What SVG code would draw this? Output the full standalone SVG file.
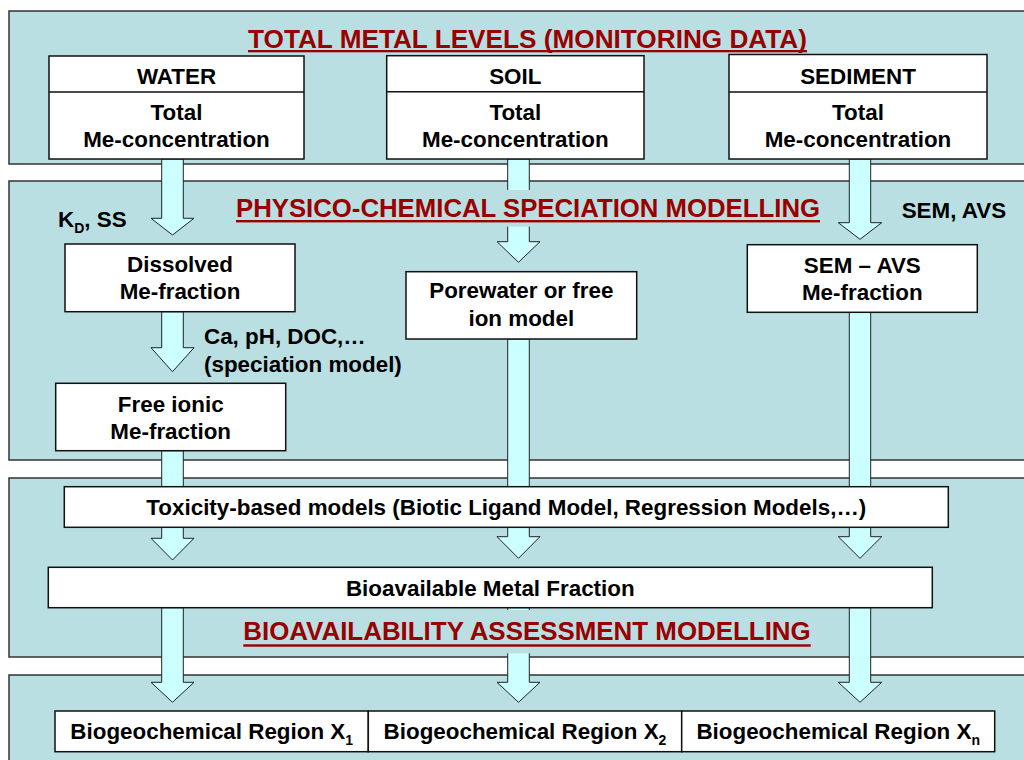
<svg xmlns="http://www.w3.org/2000/svg" width="1024" height="760" viewBox="0 0 1024 760">
  <style>
    .band { fill: #BADFE2; stroke: #333333; stroke-width: 1.5; }
    .box { fill: #FFFFFF; stroke: #111111; stroke-width: 1.5; }
    .arrow { fill: #CCFFFF; stroke: #222222; stroke-width: 1; stroke-linejoin: miter; }
    .txt { font-family: "Liberation Sans", Arial, sans-serif; font-weight: bold; font-size: 22.4px; fill: #000000; }
    .mid { text-anchor: middle; }
    .title { font-family: "Liberation Sans", Arial, sans-serif; font-weight: bold; font-size: 25.5px; fill: #990000; }
    .uline { fill: #990000; }
    .tbg { fill: #BADFE2; }
  </style>

  <!-- background bands -->
  <g id="bands">
    <rect class="band" x="9" y="11" width="1030" height="153"/>
    <rect class="band" x="9" y="181" width="1030" height="279"/>
    <rect class="band" x="9" y="478" width="1030" height="179"/>
    <rect class="band" x="9" y="675" width="1030" height="100"/>
  </g>

  <!-- block arrows -->
  <g id="connectors">
    <!-- water column -->
    <polygon class="arrow" points="161.7,159 183.3,159 183.3,218.3 194,218.3 172.5,235 151,218.3 161.7,218.3"/>
    <polygon class="arrow" points="161.7,311.7 183.3,311.7 183.3,347.7 194,347.7 172.5,371.7 151,347.7 161.7,347.7"/>
    <polygon class="arrow" points="161.7,450.7 183.3,450.7 183.3,538.3 194,538.3 172.5,560 151,538.3 161.7,538.3"/>
    <polygon class="arrow" points="161.7,607.7 183.3,607.7 183.3,682.3 194,682.3 172.5,702.3 151,682.3 161.7,682.3"/>
    <!-- soil column -->
    <polygon class="arrow" points="507.7,159 529.3,159 529.3,241.7 540,241.7 518.5,262.3 497,241.7 507.7,241.7"/>
    <polygon class="arrow" points="507.7,339 529.3,339 529.3,536.7 540,536.7 518.5,558.3 497,536.7 507.7,536.7"/>
    <polygon class="arrow" points="507.7,607.7 529.3,607.7 529.3,682.3 540,682.3 518.5,702.3 497,682.3 507.7,682.3"/>
    <!-- sediment column -->
    <polygon class="arrow" points="849.3,159 870.7,159 870.7,222.7 881.7,222.7 860,239.3 838.3,222.7 849.3,222.7"/>
    <polygon class="arrow" points="849.3,312.3 870.7,312.3 870.7,536.7 881.7,536.7 860,558.3 838.3,536.7 849.3,536.7"/>
    <polygon class="arrow" points="849.3,607.7 870.7,607.7 870.7,682.3 881.7,682.3 860,702.3 838.3,682.3 849.3,682.3"/>
  </g>

  <!-- section titles -->
  <g id="title-monitoring">
    <text class="title" x="248" y="47.7" textLength="559" lengthAdjust="spacingAndGlyphs">TOTAL METAL LEVELS (MONITORING DATA)</text>
    <rect class="uline" x="248" y="50" width="559" height="2.3"/>
  </g>
  <g id="title-speciation">
    <rect class="tbg" x="232" y="190" width="592" height="36.7"/>
    <text class="title" x="236" y="216.7" textLength="584" lengthAdjust="spacingAndGlyphs">PHYSICO-CHEMICAL SPECIATION MODELLING</text>
    <rect class="uline" x="236" y="220" width="584" height="2.4"/>
  </g>
  <g id="title-bioavailability">
    <rect class="tbg" x="240" y="610" width="574" height="43.3"/>
    <text class="title" x="243.3" y="640" textLength="567.4" lengthAdjust="spacingAndGlyphs">BIOAVAILABILITY ASSESSMENT MODELLING</text>
    <rect class="uline" x="243.3" y="644.3" width="567.4" height="2.4"/>
  </g>

  <!-- monitoring compartments -->
  <g id="water">
    <rect class="box" x="49" y="56" width="255" height="103"/>
    <line x1="49" y1="92" x2="304" y2="92" stroke="#111111" stroke-width="1.5"/>
    <text class="txt mid" x="176.5" y="83.5" font-size="21.6">WATER</text>
    <text class="txt mid" x="176.5" y="119.5">Total</text>
    <text class="txt mid" x="176.5" y="146.5">Me-concentration</text>
  </g>
  <g id="soil">
    <rect class="box" x="386.7" y="55.7" width="257.3" height="103.3"/>
    <line x1="386.7" y1="91.7" x2="644" y2="91.7" stroke="#111111" stroke-width="1.5"/>
    <text class="txt mid" x="515.3" y="83.5" font-size="21.6">SOIL</text>
    <text class="txt mid" x="515.3" y="119.5">Total</text>
    <text class="txt mid" x="515.3" y="146.5">Me-concentration</text>
  </g>
  <g id="sediment">
    <rect class="box" x="729" y="54.5" width="258" height="104.5"/>
    <line x1="729" y1="92" x2="987" y2="92" stroke="#111111" stroke-width="1.5"/>
    <text class="txt mid" x="858" y="83.5" font-size="21.6">SEDIMENT</text>
    <text class="txt mid" x="858" y="119.5">Total</text>
    <text class="txt mid" x="858" y="146.5">Me-concentration</text>
  </g>

  <!-- speciation step labels -->
  <g id="label-kd">
    <text class="txt" x="58" y="227">K<tspan dy="6" font-size="14">D</tspan><tspan dy="-6">, SS</tspan></text>
  </g>
  <g id="label-sem-avs">
    <text class="txt" x="901.7" y="218.3">SEM, AVS</text>
  </g>
  <g id="label-speciation-model">
    <text class="txt" x="204" y="344">Ca, pH, DOC,…</text>
    <text class="txt" x="204" y="371.7">(speciation model)</text>
  </g>

  <!-- speciation results -->
  <g id="dissolved">
    <rect class="box" x="65" y="244" width="230" height="67.7"/>
    <text class="txt mid" x="180" y="272.3">Dissolved</text>
    <text class="txt mid" x="180" y="299.3">Me-fraction</text>
  </g>
  <g id="free-ionic">
    <rect class="box" x="55.7" y="383.3" width="230" height="67.4"/>
    <text class="txt mid" x="170.7" y="411.7">Free ionic</text>
    <text class="txt mid" x="170.7" y="439">Me-fraction</text>
  </g>
  <g id="porewater">
    <rect class="box" x="406" y="271.7" width="230.7" height="67.3"/>
    <text class="txt mid" x="521.3" y="298.3">Porewater or free</text>
    <text class="txt mid" x="521.3" y="325.7">ion model</text>
  </g>
  <g id="sem-avs">
    <rect class="box" x="747.3" y="244.7" width="230" height="67.6"/>
    <text class="txt mid" x="862.3" y="272.7">SEM – AVS</text>
    <text class="txt mid" x="862.3" y="300">Me-fraction</text>
  </g>

  <!-- bioavailability models -->
  <g id="toxicity-models">
    <rect class="box" x="64.3" y="486.7" width="884" height="40.6"/>
    <text class="txt mid" x="506.3" y="515">Toxicity-based models (Biotic Ligand Model, Regression Models,…)</text>
  </g>
  <g id="bioavailable-fraction">
    <rect class="box" x="48.3" y="567.3" width="884" height="40.4"/>
    <text class="txt mid" x="490.3" y="595.7">Bioavailable Metal Fraction</text>
  </g>

  <!-- regional outcomes -->
  <g id="region-1">
    <rect class="box" x="55" y="711" width="313.3" height="40.7"/>
    <text class="txt mid" x="211.7" y="739">Biogeochemical Region X<tspan dy="6" font-size="14">1</tspan></text>
  </g>
  <g id="region-2">
    <rect class="box" x="368.3" y="711" width="313.4" height="40.7"/>
    <text class="txt mid" x="525" y="739">Biogeochemical Region X<tspan dy="6" font-size="14">2</tspan></text>
  </g>
  <g id="region-n">
    <rect class="box" x="681.7" y="711" width="313" height="40.7"/>
    <text class="txt mid" x="838.2" y="739">Biogeochemical Region X<tspan dy="6" font-size="14">n</tspan></text>
  </g>
</svg>
